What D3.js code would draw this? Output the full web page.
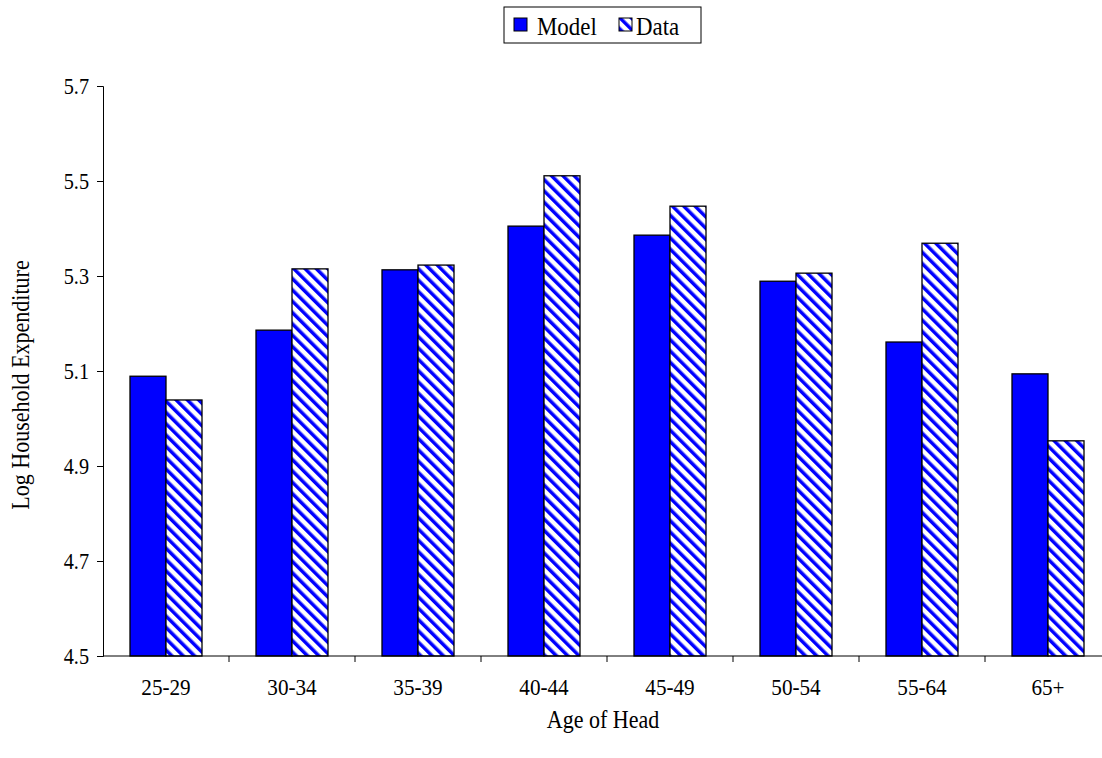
<!DOCTYPE html>
<html><head><meta charset="utf-8">
<script src="https://cdn.jsdelivr.net/npm/d3@7"></script>
<style>body{margin:0;background:#fff}text{font-family:"Liberation Serif","Times New Roman",serif;fill:#000}</style>
</head><body>
<svg id="c" width="1102" height="758"></svg>
<script>
// chart data
var ages = ["25-29", "30-34", "35-39", "40-44", "45-49", "50-54", "55-64", "65+"];
var model = [5.089, 5.186, 5.313, 5.405, 5.386, 5.289, 5.161, 5.094];
var data = [5.039, 5.315, 5.323, 5.511, 5.447, 5.306, 5.369, 4.953];
var yTicks = [4.5, 4.7, 4.9, 5.1, 5.3, 5.5, 5.7];

var svg = d3.select("#c");
var mLeft = 103, mRight = 1111, mTop = 86, mBottom = 656;

// squeeze text horizontally, like the condensed serif in the original
function squeeze(sel, k) {
    sel.each(function() {
        var w = this.getComputedTextLength();
        d3.select(this).attr("textLength", w * k).attr("lengthAdjust", "spacingAndGlyphs");
    });
}

var defs = svg.append("defs");
var pat = defs.append("pattern").attr("id", "hatch")
    .attr("patternUnits", "userSpaceOnUse").attr("width", 8).attr("height", 8)
    .attr("patternTransform", "rotate(-45)");
pat.append("rect").attr("width", 8).attr("height", 8).attr("fill", "#fff");
pat.append("rect").attr("width", 3.5).attr("height", 8).attr("fill", "#0000ff");

var x = d3.scaleBand().domain(ages).range([mLeft, mRight]).paddingInner(0).paddingOuter(0);
var y = d3.scaleLinear().domain([4.5, 5.7]).range([mBottom, mTop]);
var bw = 36;

var g = svg.append("g");
ages.forEach(function(a, i) {
    var cx = x(a) + x.bandwidth() / 2;
    g.append("rect").attr("x", cx - bw).attr("y", y(model[i]))
        .attr("width", bw).attr("height", mBottom - y(model[i]))
        .attr("fill", "#0000ff").attr("stroke", "#000").attr("stroke-width", 1.3);
    g.append("rect").attr("x", cx).attr("y", y(data[i]))
        .attr("width", bw).attr("height", mBottom - y(data[i]))
        .attr("fill", "url(#hatch)").attr("stroke", "#000").attr("stroke-width", 1.3);
});

// y axis
var ya = svg.append("g").attr("transform", "translate(" + mLeft + ",0)")
    .call(d3.axisLeft(y).tickValues(yTicks).tickFormat(d3.format(".1f")).tickSizeOuter(0).tickSize(6).tickPadding(8));
ya.attr("font-size", 23).attr("font-family", "Liberation Serif");
ya.select(".domain").attr("stroke", "#000");
ya.selectAll("text").call(squeeze, 0.88);

// x axis with ticks between categories
var xa = svg.append("g").attr("transform", "translate(0," + mBottom + ")");
xa.append("line").attr("x1", mLeft).attr("x2", mRight).attr("stroke", "#000");
ages.forEach(function(a) {
    xa.append("line").attr("x1", x(a) + x.bandwidth()).attr("x2", x(a) + x.bandwidth())
        .attr("y1", 0).attr("y2", 6).attr("stroke", "#000");
    xa.append("text").attr("x", x(a) + x.bandwidth() / 2).attr("y", 39)
        .attr("text-anchor", "middle").attr("font-size", 23).text(a).call(squeeze, 0.92);
});

svg.append("text").attr("x", (mLeft + mRight) / 2 - 4).attr("y", 728)
    .attr("text-anchor", "middle").attr("font-size", 25).text("Age of Head").call(squeeze, 0.88);
svg.append("text").attr("transform", "translate(29," + ((mTop + mBottom) / 2 + 14) + ") rotate(-90)")
    .attr("text-anchor", "middle").attr("font-size", 25).text("Log Household Expenditure").call(squeeze, 0.88);

// legend
var lg = svg.append("g");
lg.append("rect").attr("x", 504).attr("y", 7).attr("width", 197).attr("height", 36)
    .attr("fill", "#fff").attr("stroke", "#000");
lg.append("rect").attr("x", 514).attr("y", 18).attr("width", 13).attr("height", 13)
    .attr("fill", "#0000ff").attr("stroke", "#000");
lg.append("text").attr("x", 537).attr("y", 35).attr("font-size", 26).text("Model").call(squeeze, 0.88);
lg.append("rect").attr("x", 619).attr("y", 18).attr("width", 13).attr("height", 13)
    .attr("fill", "url(#hatch)").attr("stroke", "#000");
lg.append("text").attr("x", 636).attr("y", 35).attr("font-size", 26).text("Data").call(squeeze, 0.88);
</script>
</body></html>
